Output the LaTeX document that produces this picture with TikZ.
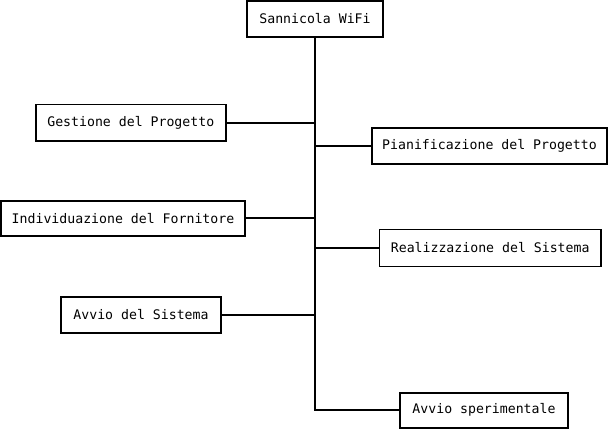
\documentclass[tikz,border=0pt]{standalone}
\usepackage{fontspec}
\setmonofont{DejaVu Sans Mono}
\begin{document}
\begin{tikzpicture}[x=1pt,y=-1pt,
  box/.style={draw=black,line width=1.6pt,fill=white,inner sep=0pt,
    font=\ttfamily\fontsize{13.2}{15}\selectfont,text=black,anchor=center},
  conn/.style={draw=black,line width=1.6pt}]
\useasboundingbox[fill=white] (0,0) rectangle (608,429);
\node[box,minimum width=136pt,minimum height=35.5pt] (root) at (315,19) {Sannicola WiFi};
\node[box,minimum width=190pt,minimum height=36.5pt] (gest) at (130.8,122.7) {Gestione del Progetto};
\node[box,minimum width=235pt,minimum height=35.5pt] (pian) at (489.5,146) {Pianificazione del Progetto};
\node[box,minimum width=243.5pt,minimum height=35pt] (indiv) at (123,218.2) {Individuazione del Fornitore};
\node[box,minimum width=221.5pt,minimum height=37pt] (real) at (490.2,247.8) {Realizzazione del Sistema};
\node[box,minimum width=160pt,minimum height=36.5pt] (avsis) at (141,315) {Avvio del Sistema};
\node[box,minimum width=167.5pt,minimum height=35pt] (avsp) at (484,410.2) {Avvio sperimentale};
\coordinate (corner) at (315,410.2);
\draw[conn] (root.south) -- (corner) -- (avsp.west);
\draw[conn] (gest.east) -- (gest.east -| root.south);
\draw[conn] (pian.west) -- (pian.west -| root.south);
\draw[conn] (indiv.east) -- (indiv.east -| root.south);
\draw[conn] (real.west) -- (real.west -| root.south);
\draw[conn] (avsis.east) -- (avsis.east -| root.south);
\end{tikzpicture}
\end{document}
